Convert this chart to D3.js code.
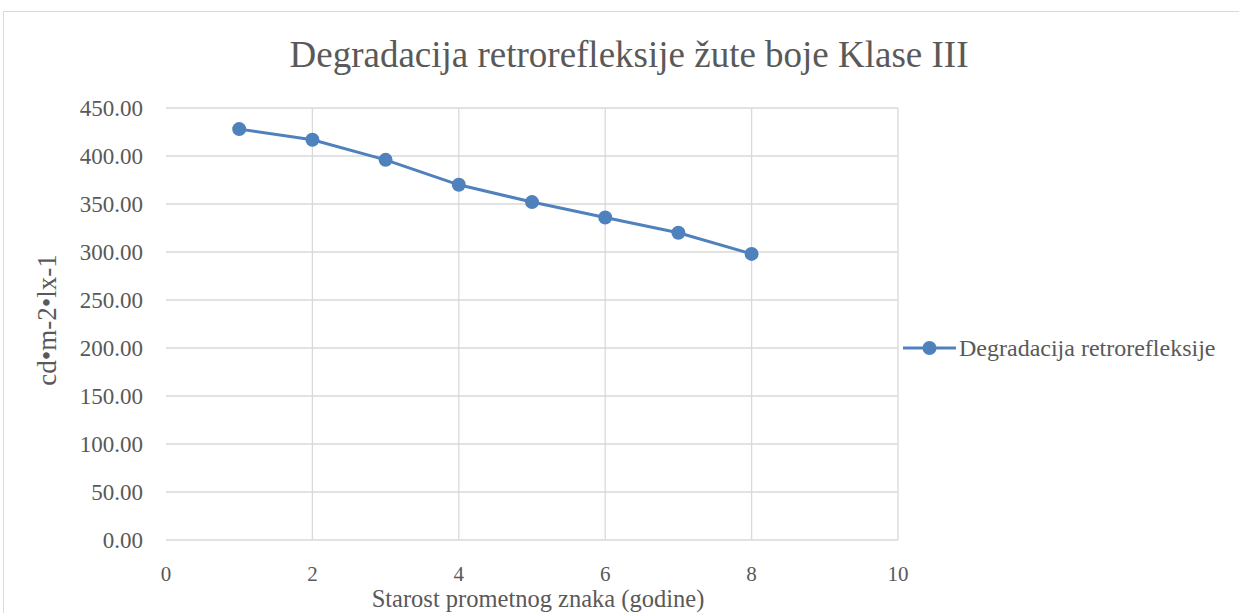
<!DOCTYPE html>
<html lang="en">
<head>
<meta charset="UTF-8">
<title>Degradacija retrorefleksije</title>
<script src="https://cdnjs.cloudflare.com/ajax/libs/d3/7.8.5/d3.min.js"></script>
<style>
  body { margin: 0; background: #fff; }
  text { font-family: "Liberation Serif", "Times New Roman", serif; fill: #595959; }
</style>
</head>
<body>
<div id="wrapper"></div>
<script>
// data
const years = [1, 2, 3, 4, 5, 6, 7, 8];
const retro = [428, 417, 396, 370, 352, 336, 320, 298];
const xTicks = [0, 2, 4, 6, 8, 10];
const yTicks = [0, 50, 100, 150, 200, 250, 300, 350, 400, 450];
const seriesName = "Degradacija retrorefleksije";

const width = 1239, height = 613;
const plot = { left: 166, right: 898, top: 108, bottom: 540 };
const blue = "#4f81bd";

const svg = d3.select("#wrapper").append("svg")
    .attr("width", width)
    .attr("height", height);

// chart frame
svg.append("rect")
    .attr("x", 3.5).attr("y", 11.5)
    .attr("width", 1240).attr("height", 620)
    .attr("fill", "none")
    .attr("stroke", "#d9d9d9");

const x = d3.scaleLinear().domain([0, 10]).range([plot.left, plot.right]);
const y = d3.scaleLinear().domain([0, 450]).range([plot.bottom, plot.top]);

// gridlines
svg.append("g").selectAll("line")
    .data(yTicks)
    .join("line")
    .attr("x1", plot.left).attr("x2", plot.right)
    .attr("y1", d => y(d)).attr("y2", d => y(d))
    .attr("stroke", "#d9d9d9").attr("stroke-width", 1.3);

svg.append("g").selectAll("line")
    .data(xTicks.slice(1))
    .join("line")
    .attr("x1", d => x(d)).attr("x2", d => x(d))
    .attr("y1", plot.top).attr("y2", plot.bottom)
    .attr("stroke", "#d9d9d9").attr("stroke-width", 1.3);

// tick labels
svg.append("g").selectAll("text")
    .data(yTicks)
    .join("text")
    .attr("x", 143)
    .attr("y", d => y(d) + 8)
    .attr("text-anchor", "end")
    .attr("font-size", 23)
    .text(d => d3.format(".2f")(d));

svg.append("g").selectAll("text")
    .data(xTicks)
    .join("text")
    .attr("x", d => x(d))
    .attr("y", 580.5)
    .attr("text-anchor", "middle")
    .attr("font-size", 21)
    .text(d => d);

// titles
svg.append("text")
    .attr("x", 629).attr("y", 67)
    .attr("text-anchor", "middle")
    .attr("font-size", 37)
    .text("Degradacija retrorefleksije žute boje Klase III");

svg.append("text")
    .attr("x", 538).attr("y", 607)
    .attr("text-anchor", "middle")
    .attr("font-size", 24.5)
    .text("Starost prometnog znaka (godine)");

svg.append("text")
    .attr("transform", `translate(56, 320) rotate(-90)`)
    .attr("text-anchor", "middle")
    .attr("font-size", 27)
    .text("cd•m-2•lx-1");

// series
const line = d3.line()
    .x((d, i) => x(years[i]))
    .y(d => y(d));

svg.append("path")
    .datum(retro)
    .attr("d", line)
    .attr("fill", "none")
    .attr("stroke", blue)
    .attr("stroke-width", 3)
    .attr("stroke-linejoin", "round");

svg.append("g").selectAll("circle")
    .data(retro)
    .join("circle")
    .attr("cx", (d, i) => x(years[i]))
    .attr("cy", d => y(d))
    .attr("r", 7)
    .attr("fill", blue);

// legend
const legend = svg.append("g").attr("transform", "translate(903, 348)");
legend.append("line")
    .attr("x1", 0).attr("x2", 53)
    .attr("stroke", blue).attr("stroke-width", 3);
legend.append("circle")
    .attr("cx", 26.5).attr("r", 7).attr("fill", blue);
legend.append("text")
    .attr("x", 56).attr("y", 8)
    .attr("font-size", 24)
    .text(seriesName);
</script>
</body>
</html>
